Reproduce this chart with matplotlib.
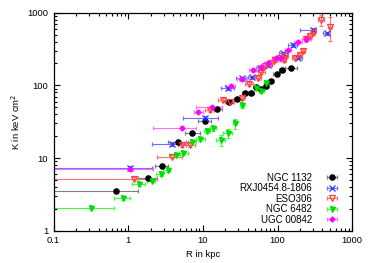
import matplotlib
matplotlib.use("Agg")
import matplotlib.pyplot as plt
from matplotlib.ticker import FuncFormatter, LogLocator
import numpy as np

plt.rcParams['font.family'] = ['Liberation Sans', 'DejaVu Sans']

# NGC 1132
r_ngc1132 = [0.69, 1.82, 2.86, 4.6, 7.2, 10.6, 15.7, 22.3, 29, 36.5, 44, 52, 61, 70, 81, 97, 115, 150]
rlo_ngc1132 = [0.05, 1.35, 2.27, 3.4, 5.7, 8.7, 13.7, 19.5, 26, 33, 40, 48, 56, 65, 75, 88, 105, 127]
rhi_ngc1132 = [1.35, 2.42, 3.42, 6.0, 9.1, 12.9, 18.2, 25.5, 33, 40, 48, 56, 65, 75, 88, 105, 127, 180]
k_ngc1132 = [3.5, 5.4, 7.9, 16.9, 22.4, 32.7, 47.9, 60, 65, 78, 79, 94, 88, 98, 115, 143, 163, 175]

# RXJ0454.8-1806
r_rxj = [1.05, 3.8, 10.6, 21.4, 33, 46, 58, 75, 119, 162, 188, 299, 466]
rlo_rxj = [0.05, 2.1, 5.4, 17.5, 28, 40, 52, 66, 105, 140, 170, 199, 410]
rhi_rxj = [2.1, 6.0, 16, 26, 38, 52, 66, 85, 135, 185, 210, 330, 510]
k_rxj = [7.4, 15.5, 36, 91, 125, 129, 172, 191, 276, 359, 240, 577, 520]

# ESO306
r_eso = [1.2, 3.8, 5.2, 6.7, 12.4, 18.4, 23, 33, 42, 55, 61, 67, 83, 92, 107, 122, 127, 170, 199, 220, 244, 270, 299, 387, 500]
k_eso = [5.2, 10.5, 15.2, 15.2, 45.9, 63, 60, 66.5, 105, 125, 154, 185, 201, 223, 236, 223, 250, 236, 262, 300, 430, 477, 530, 791, 640]
rlo_eso = [0.05, 2.42, 4.6, 5.9, 10.8, 16, 20.5, 29, 37, 49, 55, 60, 75, 84, 97, 112, 118, 155, 182, 205, 225, 250, 280, 350, 470]
rhi_eso = [2.42, 5.2, 5.9, 7.8, 14, 20.5, 26, 37, 47, 61, 67, 75, 91, 101, 117, 132, 140, 185, 215, 235, 262, 290, 320, 425, 530]
kerr_eso = [0.05, 0.05, 0.05, 0.05, 0.06, 0.06, 0.06, 0.06, 0.06, 0.06, 0.06, 0.06, 0.06, 0.06, 0.06, 0.06, 0.06, 0.06, 0.06, 0.06, 0.08, 0.08, 0.08, 0.18, 0.37]

# NGC 6482
r_ngc6482 = [0.32, 0.86, 1.39, 2.06, 2.74, 3.37, 4.31, 5.45, 7.2, 9.1, 11.2, 13.7, 17.3, 21.4, 26.8, 33.6, 52, 61, 70]
rlo_ngc6482 = [0.05, 0.65, 1.11, 1.77, 2.37, 2.95, 3.56, 4.85, 6.3, 8.2, 10.2, 12.4, 15, 18.7, 25, 31, 48, 56, 65]
rhi_ngc6482 = [0.65, 1.05, 1.67, 2.27, 2.95, 3.6, 5.0, 6.3, 8.2, 10.6, 12.4, 15, 19.6, 24.6, 29, 36, 56, 66, 76]
k_ngc6482 = [2.09, 2.81, 4.42, 4.91, 6.0, 6.9, 11.1, 11.7, 16.5, 18.4, 23.9, 26, 17.8, 22, 30.2, 53, 92, 84, 107]
kerr_ngc6482 = [0.04, 0.05, 0.05, 0.05, 0.06, 0.06, 0.06, 0.06, 0.07, 0.07, 0.08, 0.08, 0.17, 0.15, 0.16, 0.07, 0.06, 0.06, 0.06]

# UGC 00842
r_ugc = [1.07, 5.2, 8.7, 13.3, 23.5, 33.6, 47, 60, 75, 95, 113, 138, 188, 244]
rlo_ugc = [0.05, 2.16, 7.5, 8.2, 20, 29, 42, 54, 66, 85, 100, 125, 165, 215]
rhi_ugc = [2.16, 8.2, 10, 17.8, 27, 39, 52, 66, 85, 105, 125, 150, 215, 280]
k_ugc = [7.0, 26.2, 43.5, 50, 98, 121, 163, 180, 205, 240, 236, 306, 398, 430]

series = [
    ("NGC 1132", r_ngc1132, rlo_ngc1132, rhi_ngc1132, k_ngc1132, [0.04] * len(k_ngc1132),
     'black', '#7f7f7f', 'o', 'black', 3.8),
    ("RXJ0454.8-1806", r_rxj, rlo_rxj, rhi_rxj, k_rxj, [0.05] * len(k_rxj),
     '#3030ff', '#6f6fff', 'x', '#3030ff', 4),
    ("ESO306", r_eso, rlo_eso, rhi_eso, k_eso, kerr_eso,
     '#ff4040', '#ff7070', 'v', 'none', 4),
    ("NGC 6482", r_ngc6482, rlo_ngc6482, rhi_ngc6482, k_ngc6482, kerr_ngc6482,
     '#00dd00', '#40ff40', 'v', '#00dd00', 3.6),
    ("UGC 00842", r_ugc, rlo_ugc, rhi_ugc, k_ugc, [0.05] * len(k_ugc),
     '#ff00ff', '#ff70ff', 'D', '#ff00ff', 2.6),
]

fig = plt.figure(figsize=(3.75, 2.63), dpi=100)
ax = fig.add_axes([0.143, 0.122, 0.796, 0.830])

for name, r, rlo, rhi, k, kerr, col, ecol, mk, mfc, ms in series:
    r = np.array(r)
    k = np.array(k)
    xerr = [r - np.array(rlo), np.array(rhi) - r]
    kerr = np.array(kerr)
    yerr = [k * kerr, k * kerr]
    ax.errorbar(r, k, yerr=yerr, fmt='none', ecolor=ecol, elinewidth=0.8,
                capsize=1.5, capthick=0.8)
    ax.errorbar(r, k, xerr=xerr, fmt=mk, color=col, mfc=mfc, mec=col, ms=ms,
                mew=0.9, ecolor=ecol, elinewidth=0.8, capsize=1.5, capthick=0.8,
                label=name)

ax.set_xscale('log')
ax.set_yscale('log')
ax.set_xlim(0.1, 1000)
ax.set_ylim(1, 1000)

fmt = FuncFormatter(lambda v, p: ('%g' % v))
ax.xaxis.set_major_formatter(fmt)
ax.yaxis.set_major_formatter(fmt)
ax.xaxis.set_minor_locator(LogLocator(subs=np.arange(2, 10)))
ax.yaxis.set_minor_locator(LogLocator(subs=np.arange(2, 10)))
ax.tick_params(which='both', direction='in', top=True, right=True, labelsize=6.8, width=0.8)
ax.tick_params(which='major', length=4, pad=4)
ax.tick_params(which='minor', length=2)
for s in ax.spines.values():
    s.set_linewidth(0.9)

ax.set_xlabel("R in kpc", fontsize=6.8, labelpad=3)
ax.set_ylabel("K in keV cm$^2$", fontsize=6.8, labelpad=4)

ax.legend(loc='lower right', markerfirst=False, frameon=False, fontsize=7,
          handlelength=2.9, handletextpad=0.6, labelspacing=0.05,
          borderaxespad=0.35, borderpad=0.3)

fig.savefig("out.png", dpi=100)
